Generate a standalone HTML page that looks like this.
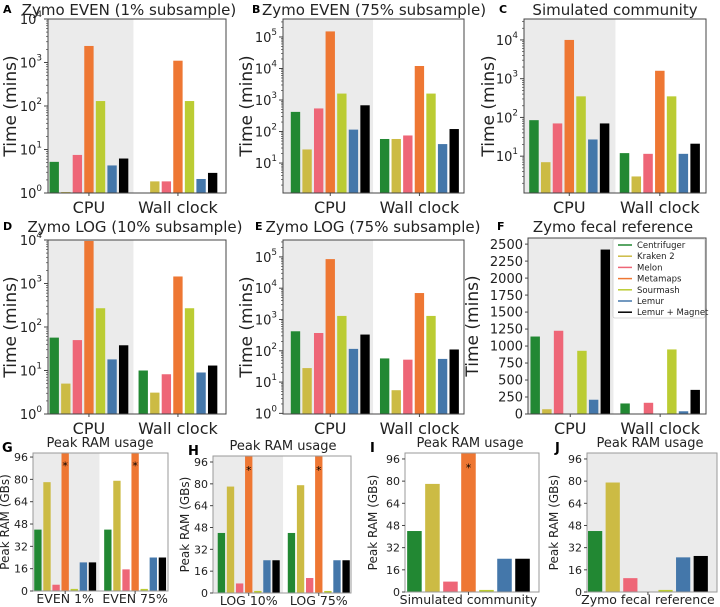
<!DOCTYPE html>
<html><head><meta charset="utf-8">
<style>
html,body{margin:0;padding:0;background:#fff;}
svg{display:block;font-family:"DejaVu Sans","Liberation Sans",sans-serif;}
</style></head>
<body>
<svg id="fig" width="720" height="607" viewBox="0 0 720 607" xmlns="http://www.w3.org/2000/svg"></svg>
<script>
// ---- data ----
const methods = ["Centrifuger","Kraken 2","Melon","Metamaps","Sourmash","Lemur","Lemur + Magnet"];
const timeGroups = ["CPU","Wall clock"];
const aCpu = [5.2,1.05,7.5,2400,130,4.3,6.2];
const aWall = [1,1.85,1.85,1100,130,2.1,2.9];
const bCpu = [420,27,540,150000,1600,115,680];
const bWall = [58,58,75,12000,1600,40,120];
const cCpu = [85,7,70,10000,350,27,70];
const cWall = [12,3,11.5,1600,350,11.5,21];
const dCpu = [57,5,50,9500,270,18,38];
const dWall = [10,3.1,8.2,1450,270,9,13];
const eCpu = [420,28,370,85000,1300,115,330];
const eWall = [57,5.5,52,7000,1300,55,110];
const fCpu = [1140,70,1225,0,930,210,2420];
const fWall = [155,2,165,0,950,40,355];
const gGroups = ["EVEN 1%","EVEN 75%"];
const gEven1 = [44,78,4.5,200,1.5,20.5,20.5];
const gEven75 = [44,79,15.5,200,1.5,24,24];
const hGroups = ["LOG 10%","LOG 75%"];
const hLog10 = [44,78,7,200,1.5,24,24];
const hLog75 = [44,79,11,200,1.5,24,24];
const iGroups = ["Simulated community"];
const iSim = [44,78,7.5,200,1.5,24,24];
const jGroups = ["Zymo fecal reference"];
const jFecal = [44,79,10,0,1.5,25,26];
const ramTicks = [0,16,32,48,64,80,96];
const fTicks = [0,250,500,750,1000,1250,1500,1750,2000,2250,2500];

const colors = ["#228833","#ccbb44","#ee6677","#ee7733","#bbcc33","#4477aa","#000000"];
const NS = "http://www.w3.org/2000/svg";
const svg = document.getElementById("fig");
function mk(tag, attrs, parent){
  const e = document.createElementNS(NS, tag);
  for (const k in attrs) e.setAttribute(k, attrs[k]);
  (parent||svg).appendChild(e);
  return e;
}
function txt(x,y,s,size,anchor,parent,extra){
  const t = mk("text",Object.assign({x:x,y:y,"font-size":size,"text-anchor":anchor||"middle",fill:"#222"},extra||{}),parent);
  t.textContent = s;
  return t;
}

function panel(p){
  const g = mk("g",{});
  
  
  const W = p.r-p.l, H = p.b-p.t;
  const sx = v => p.l + (v-p.xlim[0])/(p.xlim[1]-p.xlim[0])*W;
  const lo = p.ylim[0], hi = p.ylim[1];
  const sy = p.log
    ? v => p.b - (Math.log10(Math.max(v,lo))-Math.log10(lo))/(Math.log10(hi)-Math.log10(lo))*H
    : v => p.b - (Math.min(Math.max(v,lo),hi)-lo)/(hi-lo)*H;
  if (p.shade !== undefined){
    const sh = mk("rect",{x:p.l,y:p.t,width:Math.min(sx(p.shade),p.r)-p.l,height:H,fill:"#ebebeb"},g);
    
    
  }
  p.series.forEach((vals,gi)=>{
    vals.forEach((v,i)=>{
      const c = gi + (i-3)*0.13;
      const x0 = sx(c-0.0525), x1 = sx(c+0.0525);
      const yTop = Math.max(sy(Math.min(v,hi)), p.t);
      const h = p.b - yTop;
      if (h <= 0) return;
      const bar = mk("rect",{x:x0,y:yTop,width:x1-x0,height:h,fill:colors[i]},g);
      
      
      if (p.star && v > hi){
        const s = txt(sx(c), sy(90)+4, "*", 11, "middle", g, {fill:"#000"});
        
        
      }
    });
  });
  const fr = mk("rect",{x:p.l,y:p.t,width:W,height:H,fill:"none",stroke:p.frame||"#444","stroke-width":1},g);
  
  
  const tg = mk("g",{},g);
  
  
  if (p.log){
    for (let e=-1;e<=6;e++){
      for (let m=1;m<10;m++){
        const v = m*Math.pow(10,e);
        if (v < lo*0.999 || v > hi*1.001) continue;
        const y = sy(v);
        mk("line",{x1:p.l-(m===1?4:2),x2:p.l,y1:y,y2:y,stroke:"#444","stroke-width":m===1?1:0.7},tg);
        if (m===1){
          const t = mk("text",{x:p.l-6,y:y+5,"font-size":p.tickSize,"text-anchor":"end",fill:"#222"},tg);
          const a = mk("tspan",{},t); a.textContent="10";
          const b = mk("tspan",{dy:-7,"font-size":p.tickSize*0.68},t); b.textContent=String(e);
        }
      }
    }
  } else {
    p.ticks.forEach(v=>{
      const y = sy(v);
      mk("line",{x1:p.l-3,x2:p.l,y1:y,y2:y,stroke:"#444"},tg);
      txt(p.l-5,y+p.tickSize*0.36,String(v),p.tickSize,"end",tg);
    });
  }
  p.groups.forEach((lab,gi)=>{
    mk("line",{x1:sx(gi),x2:sx(gi),y1:p.b,y2:p.b+3,stroke:"#444"},g);
    const t = txt(sx(gi), p.b+p.xlabDy, lab, p.xlabSize, "middle", g);
    
    
  });
  const yl = txt(0,0,p.ylabel,p.ylabSize,"middle",g,{transform:`translate(${p.ylx},${(p.t+p.b)/2}) rotate(-90)`});
  
  
  const tt = txt(p.tx,p.ty,p.title,p.titleSize,"middle",g);
  
  
  const lt = txt(p.lx,p.ly,p.letter,p.letterSize,"start",g,{"font-weight":"bold",fill:"#000"});
  
  
  return {sx,sy,g};
}

const T = {log:true,tickSize:13,xlabSize:16,xlabDy:20,ylabel:"Time (mins)",ylabSize:17,titleSize:15,letterSize:11,groups:timeGroups};
panel(Object.assign({},T,{name:"panel-a",l:48,r:226,t:19,b:193,xlim:[-0.46,1.54],ylim:[1,1e4],shade:0.5,series:[aCpu,aWall],ylx:16,title:"Zymo EVEN (1% subsample)",tx:129,ty:15,letter:"A",lx:3,ly:13}));
panel(Object.assign({},T,{name:"panel-b",l:283,r:464,t:19,b:193,xlim:[-0.53,1.5],ylim:[Math.pow(10,0.05),Math.pow(10,5.57)],shade:0.48,series:[bCpu,bWall],ylx:252,title:"Zymo EVEN (75% subsample)",tx:374,ty:15,letter:"B",lx:252,ly:13}));
panel(Object.assign({},T,{name:"panel-c",l:524,r:706,t:19,b:193,xlim:[-0.5,1.51],ylim:[Math.pow(10,0.05),Math.pow(10,4.54)],shade:0.51,series:[cCpu,cWall],ylx:494,title:"Simulated community",tx:615,ty:15,letter:"C",lx:499,ly:13}));
panel(Object.assign({},T,{name:"panel-d",l:48,r:226,t:240,b:414,xlim:[-0.46,1.54],ylim:[1,1e4],shade:0.5,series:[dCpu,dWall],ylx:16,title:"Zymo LOG (10% subsample)",tx:135,ty:232,letter:"D",lx:3,ly:230}));
panel(Object.assign({},T,{name:"panel-e",l:283,r:464,t:240,b:414,xlim:[-0.53,1.5],ylim:[Math.pow(10,-0.02),Math.pow(10,5.54)],shade:0.48,series:[eCpu,eWall],ylx:252,title:"Zymo LOG (75% subsample)",tx:373,ty:232,letter:"E",lx:255,ly:230}));
panel(Object.assign({},T,{name:"panel-f",log:false,ticks:fTicks,l:528,r:706,t:238,b:414,xlim:[-0.47,1.51],ylim:[0,2590],shade:0.48,series:[fCpu,fWall],ylx:478,title:"Zymo fecal reference",tx:613,ty:232,letter:"F",lx:497,ly:230}));

const lg = mk("g",{});


mk("rect",{x:613,y:239,width:92,height:79,fill:"#fff",stroke:"#ccc","stroke-width":0.8,rx:2},lg);
methods.forEach((m,i)=>{
  const y = 245 + i*11.2;
  const e = mk("g",{},lg);
  
  
  mk("line",{x1:618,x2:632,y1:y,y2:y,stroke:colors[i],"stroke-width":1.5},e);
  txt(637,y+3,m,8.5,"start",e);
});

const R = {log:false,ticks:ramTicks,tickSize:11,xlabSize:12.5,xlabDy:12,ylabel:"Peak RAM (GBs)",ylabSize:12,titleSize:13,letterSize:13,star:true,frame:"#999",title:"Peak RAM usage"};
panel(Object.assign({},R,{name:"panel-g",l:33,r:168,t:453,b:591,xlim:[-0.46,1.47],ylim:[0,98.9],shade:0.49,series:[gEven1,gEven75],groups:gGroups,ylx:9,tx:100,ty:447,letter:"G",lx:2,ly:452}));
panel(Object.assign({},R,{name:"panel-h",l:213,r:351,t:456,b:593,xlim:[-0.51,1.46],ylim:[0,100.4],shade:0.49,series:[hLog10,hLog75],groups:hGroups,ylx:189,tx:283,ty:450,letter:"H",lx:188,ly:455}));
panel(Object.assign({},R,{name:"panel-i",l:405,r:539,t:453,b:592,xlim:[-0.458,0.509],ylim:[0,100.3],series:[iSim],groups:iGroups,ylx:377,tx:470,ty:447,letter:"I",lx:370,ly:452}));
panel(Object.assign({},R,{name:"panel-j",l:587,r:717,t:453,b:592,xlim:[-0.45,0.51],ylim:[0,100.3],shade:0.51,series:[jFecal],groups:jGroups,ylx:558,tx:650,ty:447,letter:"J",lx:555,ly:452}));
</script>
</body></html>
